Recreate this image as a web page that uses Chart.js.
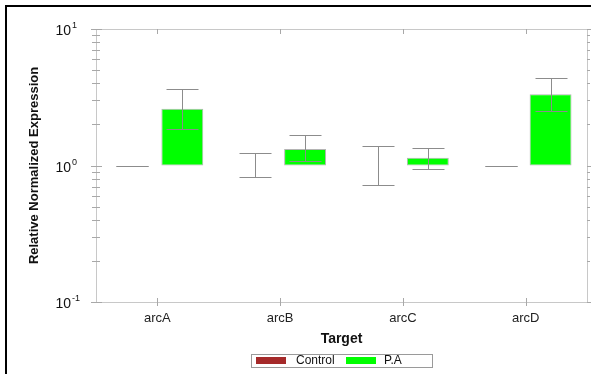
<!DOCTYPE html>
<html>
<head>
<meta charset="utf-8">
<script src="https://cdn.jsdelivr.net/npm/chart.js@4/dist/chart.umd.min.js"></script>
<style>
  html, body { margin: 0; padding: 0; background: #fff; overflow: hidden; }
</style>
</head>
<body>
<canvas id="c" width="591" height="374"></canvas>
<script>
const targets = ["arcA", "arcB", "arcC", "arcD"];
const controlMean = [1.0, 1.0, 1.0, 1.0];
const controlLow = [1.0, 0.82, 0.72, 1.0];
const controlHigh = [1.0, 1.24, 1.40, 1.0];
const paMean = [2.60, 1.32, 1.14, 3.32];
const paLow = [1.85, 1.07, 0.95, 2.50];
const paHigh = [3.65, 1.66, 1.35, 4.35];
const yTicks = [0.1, 1, 10];

const errLow = [controlLow, paLow];
const errHigh = [controlHigh, paHigh];

const axisColor = "#c8c8c8";
const tickColor = "#a8a8a8";

function line(ctx, x1, y1, x2, y2) {
  ctx.beginPath();
  ctx.moveTo(x1, y1);
  ctx.lineTo(x2, y2);
  ctx.stroke();
}

const decor = {
  id: "decor",
  beforeDraw(chart) {
    const ctx = chart.ctx;
    ctx.save();
    ctx.fillStyle = "#fff";
    ctx.fillRect(0, 0, chart.width, chart.height);
    ctx.restore();
  },
  afterDatasetsDraw(chart) {
    // error bars
    const ctx = chart.ctx;
    const y = chart.scales.y;
    ctx.save();
    ctx.strokeStyle = "#8c8c8c";
    ctx.lineWidth = 1;
    chart.data.datasets.forEach((ds, i) => {
      chart.getDatasetMeta(i).data.forEach((bar, j) => {
        const x = Math.round(bar.x) + 0.5;
        const yh = Math.round(y.getPixelForValue(errHigh[i][j])) + 0.5;
        const yl = Math.round(y.getPixelForValue(errLow[i][j])) + 0.5;
        line(ctx, x, yh, x, yl);
        line(ctx, x - 16, yh, x + 16, yh);
        line(ctx, x - 16, yl, x + 16, yl);
      });
    });
    ctx.restore();
  },
  afterDraw(chart) {
    const ctx = chart.ctx;
    const a = chart.chartArea;
    const x = chart.scales.x;
    const y = chart.scales.y;
    ctx.save();

    // outer frame
    ctx.strokeStyle = "#000";
    ctx.lineWidth = 2;
    ctx.strokeRect(6, 6, 700, 500);

    // plot frame
    ctx.strokeStyle = axisColor;
    ctx.lineWidth = 1;
    ctx.strokeRect(Math.round(a.left) + 0.5, Math.round(a.top) + 0.5,
      Math.round(a.right - a.left), Math.round(a.bottom - a.top));

    // log ticks, left and right
    ctx.strokeStyle = tickColor;
    for (let e = -1; e <= 1; e++) {
      for (let m = 1; m <= 9; m++) {
        const v = m * Math.pow(10, e);
        if (v > 10.0001) continue;
        const p = Math.round(y.getPixelForValue(v)) + 0.5;
        const major = m === 1;
        line(ctx, a.left - (major ? 5 : 4), p, a.left + (major ? 6 : 4), p);
        line(ctx, a.right, p, a.right + (major ? 4 : 3), p);
      }
    }

    // category ticks, top and bottom
    targets.forEach((t, i) => {
      const px = Math.round(x.getPixelForValue(i)) + 0.5;
      line(ctx, px, a.top, px, a.top + 5);
      line(ctx, px, a.bottom - 4, px, a.bottom + 4);
    });

    // y tick labels
    ctx.fillStyle = "#111";
    yTicks.forEach(v => {
      const p = y.getPixelForValue(v);
      ctx.font = "14px Arial, 'Liberation Sans', sans-serif";
      ctx.textAlign = "right";
      ctx.textBaseline = "alphabetic";
      ctx.fillText("10", 71, p + 6);
      ctx.font = "9px Arial, 'Liberation Sans', sans-serif";
      ctx.textAlign = "left";
      ctx.fillText(String(Math.round(Math.log10(v))), 72, p - 1);
    });

    // y title
    ctx.save();
    ctx.translate(34, (a.top + a.bottom) / 2);
    ctx.rotate(-Math.PI / 2);
    ctx.font = "bold 13px Arial, 'Liberation Sans', sans-serif";
    ctx.textAlign = "center";
    ctx.textBaseline = "middle";
    ctx.fillText("Relative Normalized Expression", 0, 0);
    ctx.restore();

    // x title
    ctx.font = "bold 14px Arial, 'Liberation Sans', sans-serif";
    ctx.textAlign = "center";
    ctx.textBaseline = "middle";
    ctx.fillText("Target", (a.left + a.right) / 2, 339);

    // legend
    ctx.strokeStyle = "#9a9a9a";
    ctx.strokeRect(251.5, 354.5, 181, 13);
    const legX = [[256, 296], [346, 384]];
    chart.data.datasets.forEach((ds, i) => {
      ctx.fillStyle = ds.backgroundColor;
      ctx.fillRect(legX[i][0], 357, 30, 7);
      ctx.fillStyle = "#111";
      ctx.font = "12px Arial, 'Liberation Sans', sans-serif";
      ctx.textAlign = "left";
      ctx.textBaseline = "middle";
      ctx.fillText(ds.label, legX[i][1], 361);
    });

    ctx.restore();
  }
};

new Chart(document.getElementById("c"), {
  type: "bar",
  data: {
    labels: targets,
    datasets: [
      {
        label: "Control",
        data: controlMean.map(v => [1, v]),
        backgroundColor: "#a52a2a",
        borderWidth: 0
      },
      {
        label: "P.A",
        data: paMean.map(v => [1, v]),
        backgroundColor: "#00ff00",
        borderColor: "#b4b4b4",
        borderWidth: 1,
        borderSkipped: false
      }
    ]
  },
  options: {
    responsive: false,
    animation: false,
    devicePixelRatio: 1,
    categoryPercentage: 0.813,
    barPercentage: 0.84,
    layout: { padding: { top: 29, right: 4, left: 0, bottom: 0 } },
    plugins: { legend: { display: false }, tooltip: { enabled: false } },
    scales: {
      x: {
        grid: { display: false, drawTicks: false },
        border: { display: false },
        ticks: { color: "#222", padding: 9, font: { family: "Arial, 'Liberation Sans', sans-serif", size: 13 } },
        afterFit(s) { s.height = 72; }
      },
      y: {
        type: "logarithmic",
        min: 0.1,
        max: 10,
        grid: { display: false },
        border: { display: false },
        ticks: { display: false },
        afterFit(s) { s.width = 96; }
      }
    }
  },
  plugins: [decor]
});
</script>
</body>
</html>
